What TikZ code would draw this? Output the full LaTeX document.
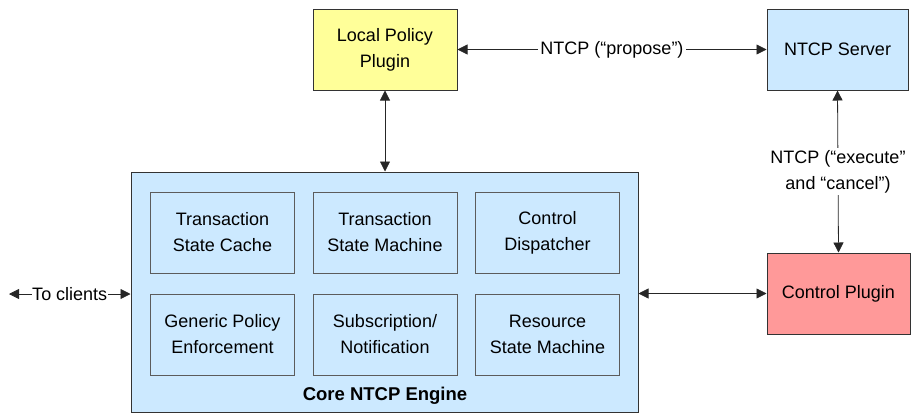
\documentclass[tikz,border=0pt]{standalone}
\usepackage{fontspec}
\setmainfont{Liberation Sans}
\usetikzlibrary{arrows.meta,positioning}
\definecolor{paleblue}{HTML}{CCE9FF}
\definecolor{paleyellow}{HTML}{FFFF99}
\definecolor{palered}{HTML}{FF9999}
\definecolor{edge}{HTML}{333333}
\tikzset{
  box/.style={draw=edge, line width=1pt, minimum width=144pt, minimum height=81pt,
    align=center, inner sep=0pt, font=\fontsize{18}{26}\selectfont},
  part/.style={box, fill=paleblue, draw=edge!80},
  link/.style={draw=black!85, line width=0.8pt, {Triangle[length=10pt,width=10pt]}-{Triangle[length=10pt,width=10pt]}},
  tag/.style={fill=white, inner sep=2pt, align=center, font=\fontsize{18}{26}\selectfont}
}
\begin{document}
\begin{tikzpicture}[x=1pt,y=-1pt]
  \useasboundingbox (0,0) rectangle (912,413);
  % top row
  \node[box, fill=paleyellow] (lpp) at (385,49.5) {Local Policy\\Plugin};
  \node[box, fill=paleblue, minimum width=141pt] (srv) at (837.5,49.5) {NTCP Server};
  % core engine container
  \node[draw=edge, line width=1pt, fill=paleblue, minimum width=507pt, minimum height=240pt, inner sep=0pt] (core) at (384.5,292) {};
  \node[font=\bfseries\fontsize{18.5}{22}\selectfont] (corelbl) at (385,396) {Core NTCP Engine};
  % engine components
  \node[part] (tsc) at (222.5,232.5) {Transaction\\State Cache};
  \node[part] (tsm) at (385,232.5) {Transaction\\State Machine};
  \node[part] (cd)  at (547.5,232.5) {Control\\Dispatcher};
  \node[part] (gpe) at (222.5,334.5) {Generic Policy\\Enforcement};
  \node[part] (sn)  at (385,334.5) {Subscription/\\Notification};
  \node[part] (rsm) at (547.5,334.5) {Resource\\State Machine};
  % control plugin
  \node[box, fill=palered, minimum width=143pt] (cp) at (838.5,293.5) {Control Plugin};
  % clients end
  \coordinate (cl) at (9,294);
  % connectors
  \draw[link] (lpp.east) -- node[tag] {NTCP (\textquotedblleft propose\textquotedblright)} (srv.west);
  \draw[link] (lpp.south) -- (lpp.south |- core.north);
  \draw[link] (srv.south) -- node[tag] {NTCP (\textquotedblleft execute\textquotedblright\\and \textquotedblleft cancel\textquotedblright)} (cp.north);
  \draw[link] (core.east |- cp.west) -- (cp.west);
  \draw[link] (cl) -- node[tag, inner sep=0.5pt] {To clients} (core.west |- cl);
\end{tikzpicture}
\end{document}
